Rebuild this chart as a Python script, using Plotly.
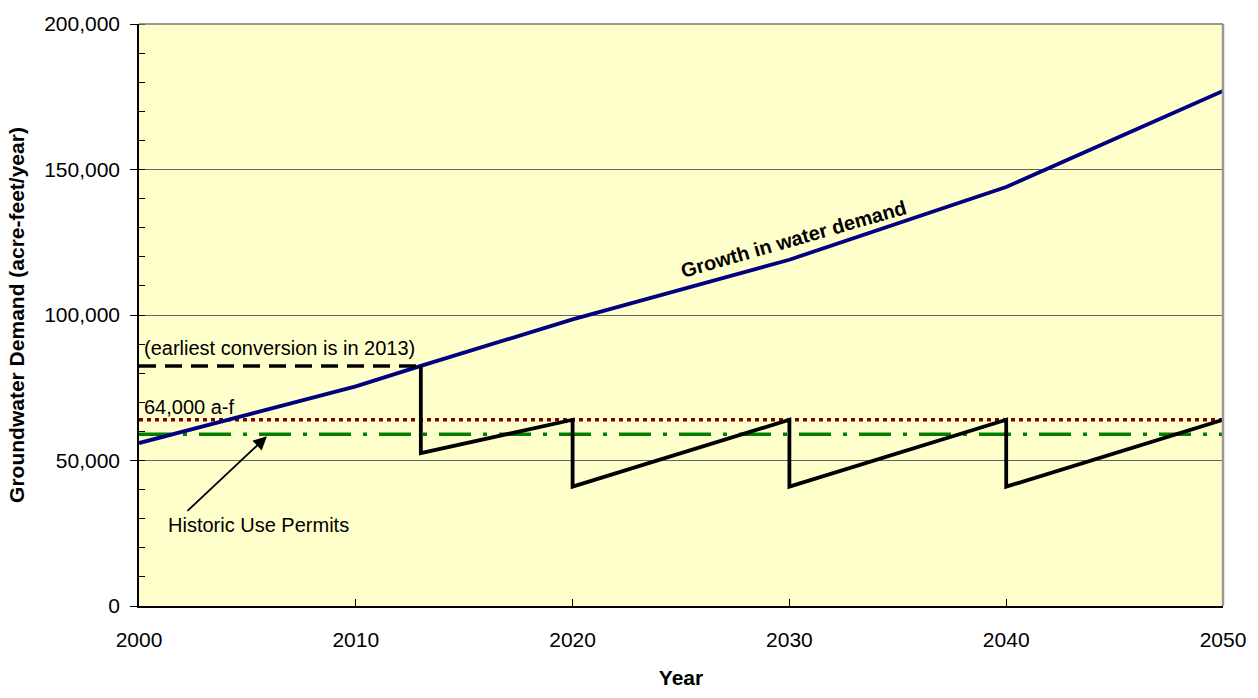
import plotly.graph_objects as go

# ---- data ----
demand_years = [2000, 2010, 2013, 2020, 2030, 2040, 2050]
demand_values = [56000, 75500, 82500, 98500, 119000, 144000, 177000]

pre_conversion_years = [2000, 2013]
pre_conversion_values = [82500, 82500]

supply_years = [2013, 2013, 2020, 2020, 2030, 2030, 2040, 2040, 2050]
supply_values = [82500, 52500, 64000, 41000, 64000, 41000, 64000, 41000, 64000]

permit_years = [2000, 2050]
permit_values = [64000, 64000]

historic_years = [2000, 2050]
historic_values = [59000, 59000]

x_ticks = [2000, 2010, 2020, 2030, 2040, 2050]
y_ticks = [0, 50000, 100000, 150000, 200000]

FONT = "Liberation Sans, Arial, sans-serif"

fig = go.Figure()

fig.add_trace(go.Scatter(x=permit_years, y=permit_values, mode="lines",
                         line=dict(color="#800000", width=3.5, dash="4px,4px"),
                         name="64,000 a-f"))
fig.add_trace(go.Scatter(x=historic_years, y=historic_values, mode="lines",
                         line=dict(color="#008000", width=3.5, dash="32px,12px,4px,12px"),
                         name="Historic Use Permits"))
fig.add_trace(go.Scatter(x=demand_years, y=demand_values, mode="lines",
                         line=dict(color="#000080", width=3.8),
                         name="Growth in water demand"))
fig.add_trace(go.Scatter(x=pre_conversion_years, y=pre_conversion_values, mode="lines",
                         line=dict(color="black", width=3.5, dash="17px,9px"),
                         name="earliest conversion"))
fig.add_trace(go.Scatter(x=supply_years, y=supply_values, mode="lines",
                         line=dict(color="black", width=3.8),
                         name="supply"))

fig.update_layout(
    width=1258, height=698,
    margin=dict(l=139, r=31, t=18, b=83),
    paper_bgcolor="white",
    plot_bgcolor="#FFFFCC",
    showlegend=False,
    font=dict(family=FONT, color="black", size=20),
)

fig.update_xaxes(
    range=[2000, 2050], tickvals=x_ticks, ticktext=[str(v) for v in x_ticks],
    showgrid=False, zeroline=False,
    showline=True, linecolor="black", linewidth=1.5,
    ticks="inside", ticklen=7, tickcolor="black", tickwidth=1.2,
    tickfont=dict(family=FONT, size=21, color="black"),
    ticklabelstandoff=14,
    title=dict(text="<b>Year</b>", font=dict(family=FONT, size=21, color="black"), standoff=20),
)

fig.update_yaxes(
    range=[0, 200000], tickvals=y_ticks, tickformat=",",
    showgrid=True, gridcolor="#666666", gridwidth=1.2, zeroline=False,
    showline=True, linecolor="black", linewidth=1.5,
    ticks="outside", ticklen=7, tickcolor="black", tickwidth=1.2,
    minor=dict(dtick=10000, ticks="inside", ticklen=6, tickcolor="black", tickwidth=1.2, showgrid=False),
    tickfont=dict(family=FONT, size=21, color="black"),
    ticklabelstandoff=6,
    title=dict(text="<b>Groundwater Demand (acre-feet/year)</b>",
               font=dict(family=FONT, size=21, color="black"), standoff=14),
)

# right and top border of plot frame
fig.add_shape(type="line", xref="paper", yref="paper", x0=1, x1=1, y0=0, y1=1,
              line=dict(color="#999999", width=2.5))
fig.add_shape(type="line", xref="paper", yref="paper", x0=0, x1=1, y0=1, y1=1,
              line=dict(color="#777777", width=1.5))

fig.add_annotation(x=2000.12, y=88800, text="(earliest conversion is in 2013)",
                   showarrow=False, xanchor="left", yanchor="middle",
                   font=dict(family=FONT, size=20, color="black"))
fig.add_annotation(x=2000.12, y=68300, text="64,000 a-f",
                   showarrow=False, xanchor="left", yanchor="middle",
                   font=dict(family=FONT, size=20, color="black"))
fig.add_annotation(x=2001.25, y=27800, text="Historic Use Permits",
                   showarrow=False, xanchor="left", yanchor="middle",
                   font=dict(family=FONT, size=20, color="black"))
fig.add_annotation(x=2005.9, y=58300, text="", showarrow=True,
                   ax=-81, ay=76, arrowhead=2, arrowsize=1.5, arrowwidth=1.8,
                   arrowcolor="black")
fig.add_annotation(x=2030.2, y=126000, text="<b>Growth in water demand</b>",
                   showarrow=False, textangle=-16,
                   font=dict(family=FONT, size=20, color="black"))

fig.write_html("out.html", config={"displayModeBar": False},
               post_script="document.body.style.margin='0px';")
